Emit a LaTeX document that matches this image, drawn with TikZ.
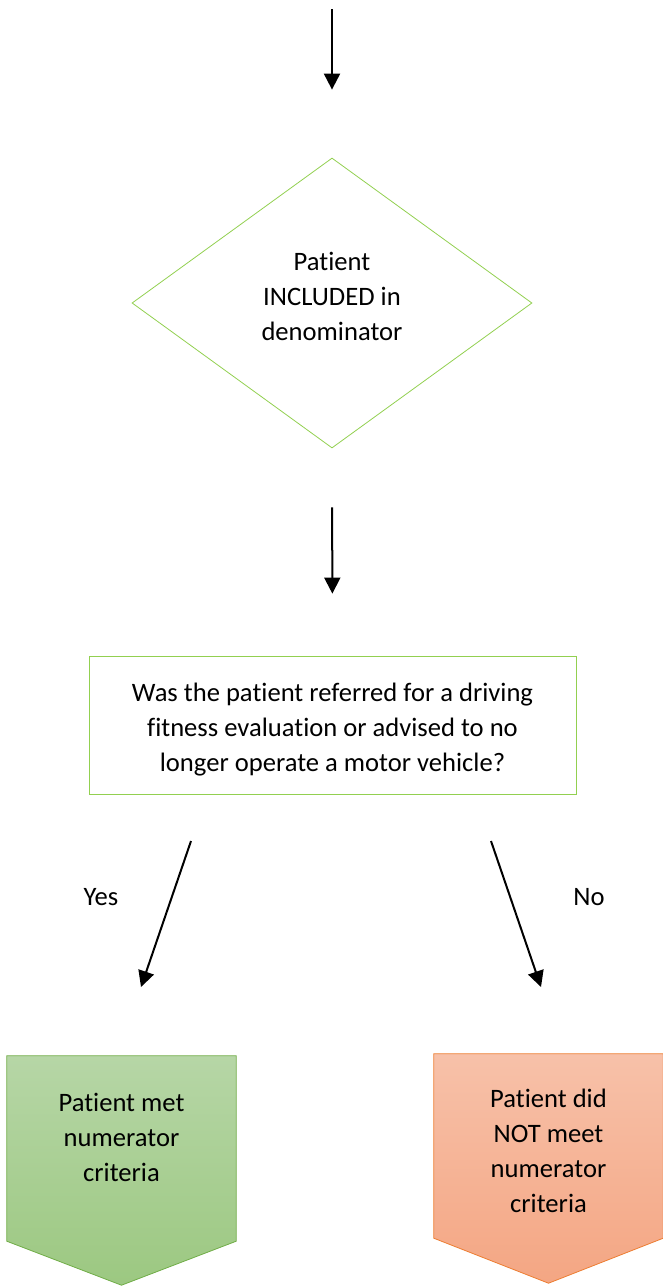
\documentclass[tikz,border=0pt]{standalone}
\usepackage{fontspec}
\setmainfont[Ligatures=NoCommon]{Carlito}
\usetikzlibrary{arrows.meta,shapes.geometric,backgrounds,calc}
\definecolor{boxgreen}{HTML}{92D050}
\definecolor{okline}{HTML}{70AD47}
\definecolor{oktop}{HTML}{B6D6A6}
\definecolor{okbot}{HTML}{9CC881}
\definecolor{noline}{HTML}{ED7D31}
\definecolor{notop}{HTML}{F7C1A9}
\definecolor{nobot}{HTML}{F4A683}
\begin{document}
\begin{tikzpicture}[x=1pt,y=-1pt,
    every node/.style={font=\fontsize{26.6}{35}\selectfont,align=center},
    arr/.style={line width=2pt,-{Triangle[length=16pt,width=16pt]}},
    decision/.style={diamond,draw=boxgreen,line width=.8pt,inner sep=0pt,minimum width=400pt,minimum height=290pt,aspect=1.38},
    question/.style={rectangle,draw=boxgreen,line width=.8pt,minimum width=487pt,minimum height=138pt},
    result/.style={rectangle,inner sep=0pt,minimum width=229pt,minimum height=185pt}]
    \useasboundingbox (0,0) rectangle (662,1286);
    \node[decision] (incl) at (332,303) {};
    \node (inclText) at ([yshift=7pt]incl.center) {Patient\\INCLUDED in\\denominator};
    \node[question] (ask) at (332.5,725) {};
    \node (askText) at ([yshift=-5pt]ask.center) {Was the patient referred for a driving\\fitness evaluation or advised to no\\longer operate a motor vehicle?};
    \node[result] (met) at (121.5,1148.5) {};
    \node (metText) at ([yshift=11pt]met.center) {Patient met\\numerator\\criteria};
    \node[result,minimum height=184pt] (notmet) at (548.5,1146) {};
    \node (notmetText) at ([yshift=-5pt]notmet.center) {Patient did\\NOT meet\\numerator\\criteria};
    \begin{scope}[on background layer]
        \shade[top color=oktop,bottom color=okbot,draw=okline,line width=.8pt] (met.north west) -- (met.north east) -- (met.south east) -- ($(met.south)+(0,44)$) -- (met.south west) -- cycle;
        \shade[top color=notop,bottom color=nobot,draw=noline,line width=.8pt] (notmet.north west) -- (notmet.north east) -- (notmet.south east) -- ($(notmet.south)+(0,45)$) -- (notmet.south west) -- cycle;
    \end{scope}
    \coordinate (start) at (332,9);
    \coordinate (yesA) at (191,841);
    \coordinate (yesB) at (141,987);
    \coordinate (noA) at (491,841);
    \coordinate (noB) at (541,987);
    \draw[arr,shorten >=68pt] (start) -- (incl.north);
    \draw[arr,shorten <=59pt,shorten >=62pt] (incl.south) -- (ask.north);
    \draw[arr] (yesA) -- (yesB);
    \draw[arr] (noA) -- (noB);
    \node (yes) at (101,897) {Yes};
    \node (no) at (589,897) {No};
\end{tikzpicture}
\end{document}
